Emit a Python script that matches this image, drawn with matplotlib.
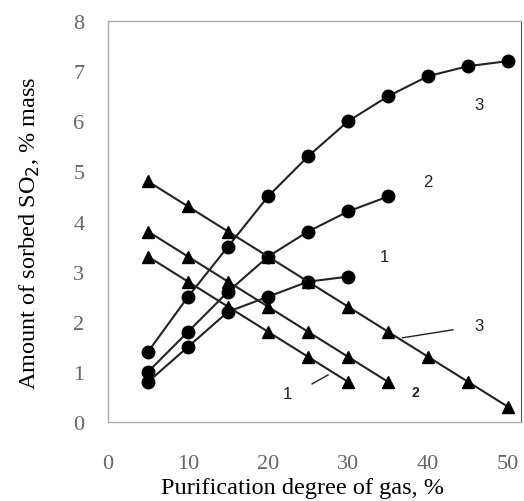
import matplotlib
matplotlib.use("Agg")
import matplotlib.pyplot as plt

x3 = [5, 10, 15, 20, 25, 30, 35, 40, 45, 50]
x2 = [5, 10, 15, 20, 25, 30, 35]
x1 = [5, 10, 15, 20, 25, 30]

sorbed_3 = [1.4, 2.5, 3.5, 4.5, 5.3, 6.0, 6.5, 6.9, 7.1, 7.2]
sorbed_2 = [1.0, 1.8, 2.6, 3.3, 3.8, 4.2, 4.5]
sorbed_1 = [0.8, 1.5, 2.2, 2.5, 2.8, 2.9]

tri_3 = [4.8, 4.3, 3.8, 3.3, 2.8, 2.3, 1.8, 1.3, 0.8, 0.3]
tri_2 = [3.8, 3.3, 2.8, 2.3, 1.8, 1.3, 0.8]
tri_1 = [3.3, 2.8, 2.3, 1.8, 1.3, 0.8]

xticks = [0, 10, 20, 30, 40, 50]
yticks = [0, 1, 2, 3, 4, 5, 6, 7, 8]

fig = plt.figure(figsize=(5.24, 5.02), dpi=100)
ax = fig.add_axes([108/524, 79/502, 413/524, 401/502])

lc = "#222222"
for xs, ys in [(x3, sorbed_3), (x2, sorbed_2), (x1, sorbed_1)]:
    ax.plot(xs, ys, color=lc, lw=1.5, marker="o", ms=9, mfc="black", mec="black")
for xs, ys in [(x3, tri_3), (x2, tri_2), (x1, tri_1)]:
    ax.plot(xs, ys, color=lc, lw=1.5, marker="^", ms=8, mfc="black", mec="black")

ax.set_xlim(0, 51.6)
ax.set_ylim(0, 8)
ax.set_xticks(xticks)
ax.set_yticks(yticks)
ax.tick_params(length=0, labelsize=16, colors="#666666")
ax.tick_params(axis="y", pad=17)
ax.tick_params(axis="x", pad=23)
for lab in ax.get_xticklabels() + ax.get_yticklabels():
    lab.set_family("Liberation Serif")

for s in ["left", "bottom", "top"]:
    ax.spines[s].set_color("#aaaaaa")
    ax.spines[s].set_linewidth(1.0)
ax.spines["right"].set_color("#555555")

ax.set_xlabel("Purification degree of gas, %", family="Liberation Serif", fontsize=17.5, va="center")
ax.xaxis.set_label_coords(0.472, -66/401)
ax.set_ylabel("Amount of sorbed SO$_2$, % mass", family="Liberation Serif", fontsize=17.5, va="center")
ax.yaxis.set_label_coords(-78/413, 0.474)

sans = "Liberation Sans"
ax.text(46.3, 6.34, "3", family=sans, fontsize=12, ha="center", va="center", color="#222222")
ax.text(40.0, 4.8, "2", family=sans, fontsize=12, ha="center", va="center", color="#222222")
ax.text(34.5, 3.3, "1", family=sans, fontsize=12, ha="center", va="center", color="#222222")
ax.text(46.4, 1.92, "3", family=sans, fontsize=12, ha="center", va="center", color="#222222")
ax.text(38.4, 0.6, "2", family=sans, fontsize=10, fontweight="bold", ha="center", va="center", color="#222222")
ax.text(22.4, 0.56, "1", family=sans, fontsize=12, ha="center", va="center", color="#222222")
ax.plot([43.1, 36.8], [1.84, 1.68], color="#222222", lw=1.0)
ax.plot([25.5, 27.5], [0.76, 0.94], color="#222222", lw=1.0)

fig.savefig("out.png", dpi=100)
